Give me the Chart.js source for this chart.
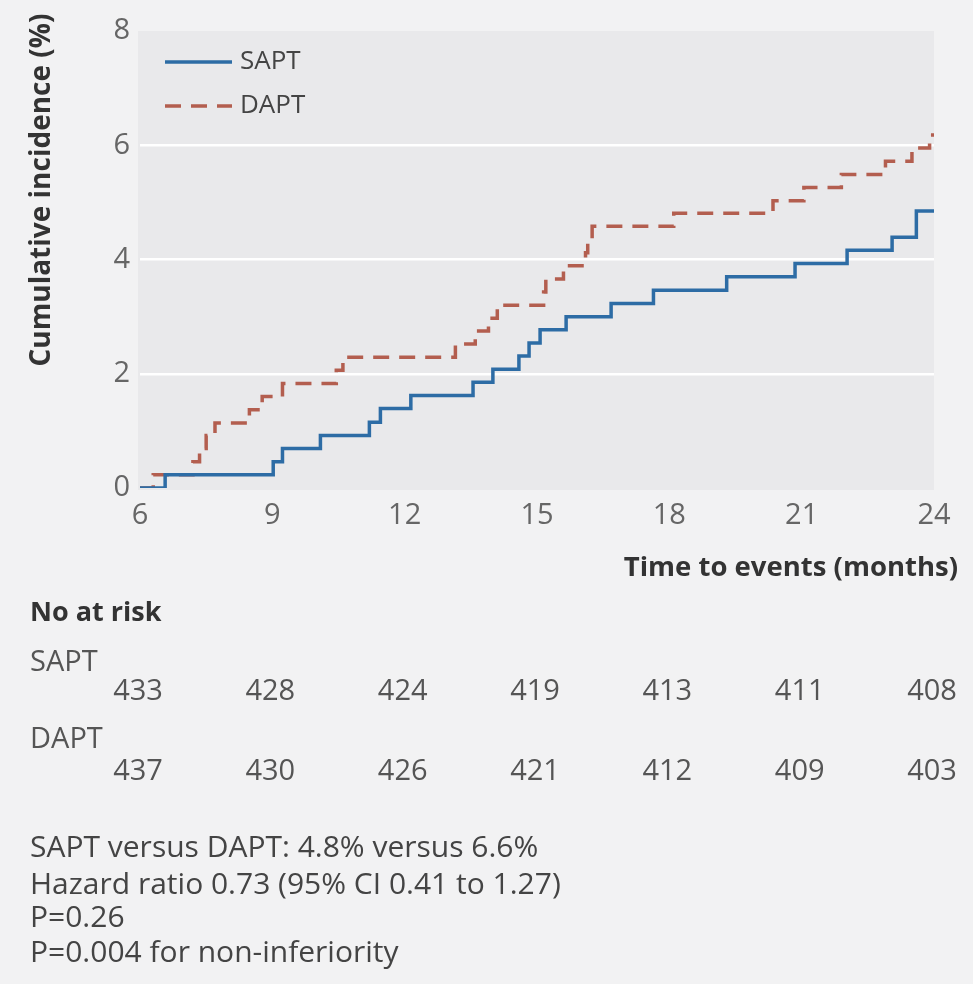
<!DOCTYPE html>
<html>
<head>
<meta charset="utf-8">
<script src="https://cdn.jsdelivr.net/npm/chart.js@4.4.1/dist/chart.umd.min.js"></script>
<style>
  html, body { margin: 0; padding: 0; background: #f2f2f3; }
  #wrap { position: relative; width: 973px; height: 984px; }
</style>
</head>
<body>
<div id="wrap"><canvas id="km" width="973" height="984"></canvas></div>
<script>
// Kaplan-Meier cumulative incidence, months 6 to 24
const saptMonths = [6, 6.57, 9.02, 9.23, 10.09, 11.2, 11.45, 12.14, 13.55, 14.0, 14.59, 14.82, 15.07, 15.66, 16.68, 17.64, 19.3, 20.85, 22.03, 23.05, 23.6, 24];
const saptPct    = [0, 0.23, 0.46, 0.69, 0.92, 1.15, 1.39, 1.62, 1.85, 2.08, 2.31, 2.54, 2.77, 3.00, 3.23, 3.46, 3.70, 3.93, 4.16, 4.39, 4.85, 4.85];

const daptMonths = [6, 6.3, 7.2, 7.35, 7.5, 7.7, 8.48, 8.77, 9.23, 10.45, 10.6, 13.15, 13.6, 13.9, 14.1, 15.15, 15.2, 15.6, 16.1, 16.15, 16.25, 18.1, 20.35, 21.05, 21.9, 22.9, 23.5, 23.9, 24];
const daptPct    = [0, 0.23, 0.46, 0.69, 0.92, 1.14, 1.37, 1.60, 1.83, 2.06, 2.29, 2.52, 2.75, 2.97, 3.20, 3.43, 3.66, 3.89, 4.12, 4.35, 4.58, 4.81, 5.03, 5.26, 5.49, 5.72, 5.95, 6.18, 6.18];

const xTicks = [6, 9, 12, 15, 18, 21, 24];
const yTicks = [0, 2, 4, 6, 8];

const riskSapt = [433, 428, 424, 419, 413, 411, 408];
const riskDapt = [437, 430, 426, 421, 412, 409, 403];

const seriesNames = ['SAPT', 'DAPT'];
const yTitle = 'Cumulative incidence (%)';
const xTitle = 'Time to events (months)';
const riskHeading = 'No at risk';
const statLines = [
  'SAPT versus DAPT: 4.8% versus 6.6%',
  'Hazard ratio 0.73 (95% CI 0.41 to 1.27)',
  'P=0.26',
  'P=0.004 for non-inferiority'
];

const FONT = '"Open Sans", "DejaVu Sans", sans-serif';
const TEXT_SIZE = 29;
const STAT_SIZE = 30;
const TITLE_SIZE = 28;
const TICK_SIZE = 29;
const LEGEND_SIZE = 26;
const BLUE = '#2d6ca5';
const RED = '#b35e4f';

const toPoints = (xs, ys) => xs.map((x, i) => ({ x: x, y: ys[i] }));

const decor = {
  id: 'decor',
  beforeDraw(chart) {
    const { ctx, chartArea: a } = chart;
    ctx.save();
    ctx.fillStyle = '#f2f2f3';
    ctx.fillRect(0, 0, chart.width, chart.height);
    ctx.fillStyle = '#e9e9eb';
    ctx.fillRect(a.left - 2, a.top, a.right - a.left + 2, a.bottom - a.top + 2);
    ctx.restore();
  },
  afterDraw(chart) {
    const { ctx } = chart;
    const xs = chart.scales.x;
    ctx.save();
    ctx.textBaseline = 'middle';

    // y axis title
    ctx.save();
    ctx.translate(42, 190);
    ctx.rotate(-Math.PI / 2);
    ctx.textAlign = 'center';
    ctx.font = `bold ${TITLE_SIZE}px ${FONT}`;
    ctx.fillStyle = '#333';
    ctx.fillText(yTitle, 0, 0);
    ctx.restore();

    // x axis title
    ctx.textAlign = 'right';
    ctx.font = `bold ${TITLE_SIZE - 0.5}px ${FONT}`;
    ctx.fillStyle = '#333';
    ctx.fillText(xTitle, 958, 568);

    // legend
    const ds = chart.data.datasets;
    const legendY = [62, 106];
    ds.forEach((d, i) => {
      ctx.save();
      ctx.strokeStyle = d.borderColor;
      ctx.lineWidth = d.borderWidth;
      ctx.setLineDash(d.borderDash || []);
      ctx.beginPath();
      ctx.moveTo(165, legendY[i]);
      ctx.lineTo(232, legendY[i]);
      ctx.stroke();
      ctx.restore();
      ctx.textAlign = 'left';
      ctx.font = `${LEGEND_SIZE}px ${FONT}`;
      ctx.fillStyle = '#444';
      ctx.fillText(d.label, 240, legendY[i]);
    });

    // numbers at risk
    ctx.textAlign = 'left';
    ctx.font = `bold ${TITLE_SIZE - 1}px ${FONT}`;
    ctx.fillStyle = '#333';
    ctx.fillText(riskHeading, 30, 613);
    ctx.font = `${TEXT_SIZE}px ${FONT}`;
    ctx.fillStyle = '#555';
    ctx.fillText(seriesNames[0], 30, 663);
    ctx.fillText(seriesNames[1], 30, 740);
    ctx.textAlign = 'center';
    xTicks.forEach((t, i) => {
      const px = xs.getPixelForValue(t);
      ctx.fillText(String(riskSapt[i]), px - 2, 692);
      ctx.fillText(String(riskDapt[i]), px - 2, 772);
    });

    // summary statistics
    ctx.textAlign = 'left';
    ctx.font = `${STAT_SIZE}px ${FONT}`;
    ctx.fillStyle = '#444';
    const statY = [848, 885, 918, 953];
    statLines.forEach((s, i) => ctx.fillText(s, 30, statY[i]));
    ctx.restore();
  }
};

new Chart(document.getElementById('km'), {
  type: 'line',
  data: {
    datasets: [
      {
        label: seriesNames[0],
        data: toPoints(saptMonths, saptPct),
        borderColor: BLUE,
        borderWidth: 3.5,
        stepped: true,
        pointRadius: 0,
        fill: false
      },
      {
        label: seriesNames[1],
        data: toPoints(daptMonths, daptPct),
        borderColor: RED,
        borderWidth: 3.5,
        borderDash: [16, 10],
        stepped: true,
        pointRadius: 0,
        fill: false
      }
    ]
  },
  options: {
    responsive: false,
    animation: false,
    devicePixelRatio: 1,
    layout: { padding: { top: 31, right: 39, left: 0, bottom: 456 } },
    plugins: { legend: { display: false }, tooltip: { enabled: false } },
    scales: {
      x: {
        type: 'linear',
        min: 6,
        max: 24,
        afterBuildTicks: s => { s.ticks = xTicks.map(v => ({ value: v })); },
        afterFit: s => { s.height = 40; },
        grid: { display: false },
        border: { display: false },
        ticks: { font: { family: FONT, size: TICK_SIZE }, color: '#666', padding: 2, maxRotation: 0 }
      },
      y: {
        type: 'linear',
        min: 0,
        max: 8,
        afterBuildTicks: s => { s.ticks = yTicks.map(v => ({ value: v })); },
        afterFit: s => { s.width = 140; },
        grid: {
          color: c => (c.tick && (c.tick.value === 0 || c.tick.value === 8)) ? 'rgba(0,0,0,0)' : '#ffffff',
          lineWidth: 2.5,
          drawTicks: false
        },
        border: { display: false },
        ticks: { font: { family: FONT, size: TICK_SIZE }, color: '#666', padding: 10 }
      }
    }
  },
  plugins: [decor]
});
</script>
</body>
</html>
